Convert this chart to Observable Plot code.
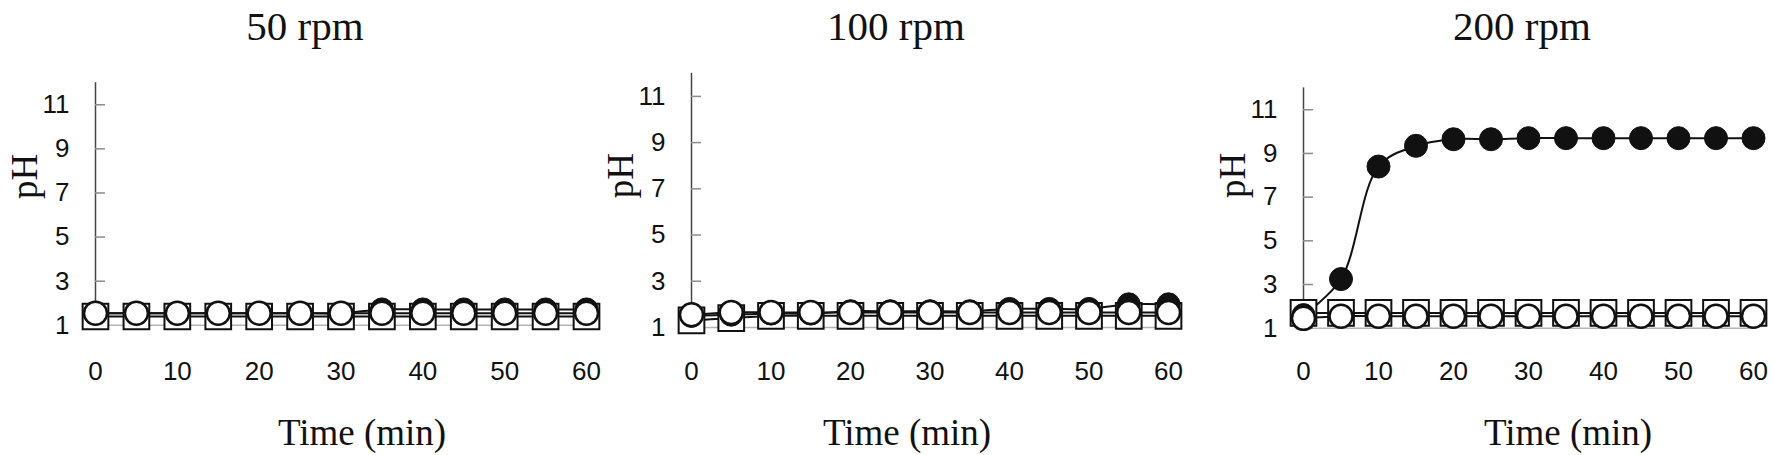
<!DOCTYPE html>
<html>
<head>
<meta charset="utf-8">
<script src="https://cdn.jsdelivr.net/npm/d3@7"></script>
<script src="https://cdn.jsdelivr.net/npm/@observablehq/plot@0.6"></script>
<style>
  body { margin: 0; background: #fff; }
  #fig { position: relative; width: 1774px; height: 455px; overflow: hidden; background: #fff; }
  .abs { position: absolute; top: 0; }
  .title, .xlabel {
    position: absolute; font-family: "Liberation Serif", serif; color: #111;
    white-space: nowrap; transform: translateX(-50%); line-height: 1;
  }
  .title { font-size: 41px; top: 6px; }
  .xlabel { font-size: 37px; top: 414px; }
</style>
</head>
<body>
<div id="fig"></div>
<script>
// Sampling times (min) and axis ticks
const minutes = [0, 5, 10, 15, 20, 25, 30, 35, 40, 45, 50, 55, 60];
const minuteTicks = [0, 10, 20, 30, 40, 50, 60];
const phTicks = [1, 3, 5, 7, 9, 11];
const speeds = ["50 rpm", "100 rpm", "200 rpm"];

// pH readings per stirring speed: ● filled circle, □ open square, ○ open circle
const solid50  = [1.55, 1.55, 1.55, 1.55, 1.55, 1.55, 1.55, 1.72, 1.72, 1.72, 1.72, 1.72, 1.72];
const square50 = [1.4, 1.4, 1.4, 1.4, 1.4, 1.4, 1.4, 1.4, 1.4, 1.4, 1.4, 1.4, 1.4];
const open50   = [1.55, 1.55, 1.55, 1.55, 1.55, 1.55, 1.55, 1.55, 1.55, 1.55, 1.55, 1.55, 1.55];

const solid100  = [1.5, 1.55, 1.6, 1.6, 1.7, 1.7, 1.7, 1.7, 1.8, 1.8, 1.8, 2.0, 2.0];
const square100 = [1.3, 1.4, 1.5, 1.5, 1.5, 1.5, 1.5, 1.5, 1.5, 1.5, 1.5, 1.5, 1.5];
const open100   = [1.55, 1.65, 1.65, 1.65, 1.65, 1.65, 1.65, 1.65, 1.65, 1.65, 1.65, 1.65, 1.65];

const solid200  = [1.6, 3.25, 8.4, 9.35, 9.65, 9.65, 9.7, 9.7, 9.7, 9.7, 9.7, 9.7, 9.7];
const square200 = [1.7, 1.7, 1.7, 1.7, 1.7, 1.7, 1.7, 1.7, 1.7, 1.7, 1.7, 1.7, 1.7];
const open200   = [1.45, 1.55, 1.55, 1.55, 1.55, 1.55, 1.55, 1.55, 1.55, 1.55, 1.55, 1.55, 1.55];

const seriesBySpeed = [
  [solid50, square50, open50],
  [solid100, square100, open100],
  [solid200, square200, open200]
];

// Panel geometry (page pixels)
const layout = [
  { left: 0,    width: 620, ml: 95,  mr: 34, mt: 82.2, mb: 130.2, phDy: -5,  titleX: 305,  labelX: 362 },
  { left: 590,  width: 600, ml: 101, mr: 22, mt: 72.8, mb: 128.1, phDy: -2,  titleX: 896,  labelX: 907 },
  { left: 1180, width: 594, ml: 123, mr: 21, mt: 87.4, mb: 127.3, phDy: -10, titleX: 1522, labelX: 1568 }
];

const fig = document.getElementById("fig");
const ink = "#111";
const sans = "Liberation Sans, Arial, sans-serif";
const serif = "Liberation Serif, Times New Roman, serif";

const toRows = (values) => minutes.map((t, i) => ({ t, ph: values[i] }));

speeds.forEach((speed, p) => {
  const L = layout[p];
  const [solid, square, open] = seriesBySpeed[p].map(toRows);
  const lineOpts = { x: "t", y: "ph", curve: "catmull-rom", stroke: ink, strokeWidth: 2 };
  const frameBottom = 455 - L.mb;

  const chart = Plot.plot({
    width: L.width,
    height: 455,
    marginLeft: L.ml, marginRight: L.mr, marginTop: L.mt, marginBottom: L.mb,
    x: { domain: [0, 60] },
    y: { domain: [1, 12] },
    style: { fontFamily: sans, fontSize: "26px", color: ink, background: "transparent", overflow: "visible" },
    marks: [
      Plot.ruleY([1], { stroke: "#b5b5b5", strokeWidth: 1.5 }),
      Plot.ruleX([0], { stroke: "#444", strokeWidth: 1.5 }),
      Plot.axisY(phTicks, { tickSize: -10, fill: "none", stroke: "#8c8c8c", strokeWidth: 1.5 }),
      Plot.axisY(phTicks, { tickSize: 0, tickPadding: 26, label: null, fontSize: 26, fontFamily: sans, fill: ink }),
      Plot.axisX(minuteTicks, { tickSize: 0, tickPadding: 361 - frameBottom, label: null, fontSize: 26, fontFamily: sans, fill: ink }),
      Plot.text(["pH"], { text: d => d, frameAnchor: "left", rotate: -90, dx: -70, dy: L.phDy,
                          fontFamily: serif, fontSize: 37, fill: ink }),
      Plot.line(square, lineOpts),
      Plot.line(solid, lineOpts),
      Plot.line(open, lineOpts),
      Plot.dot(square, { x: "t", y: "ph", symbol: "square", r: 14.5, fill: "#fff", stroke: ink, strokeWidth: 2 }),
      Plot.dot(solid, { x: "t", y: "ph", r: 11.5, fill: ink, stroke: ink, strokeWidth: 1 }),
      Plot.dot(open, { x: "t", y: "ph", r: 11.5, fill: "#fff", stroke: ink, strokeWidth: 2.5 })
    ]
  });
  chart.classList.add("abs");
  chart.style.left = L.left + "px";
  fig.appendChild(chart);

  const title = document.createElement("div");
  title.className = "title";
  title.textContent = speed;
  title.style.left = L.titleX + "px";
  fig.appendChild(title);

  const xlabel = document.createElement("div");
  xlabel.className = "xlabel";
  xlabel.textContent = "Time (min)";
  xlabel.style.left = L.labelX + "px";
  fig.appendChild(xlabel);
});
</script>
</body>
</html>
